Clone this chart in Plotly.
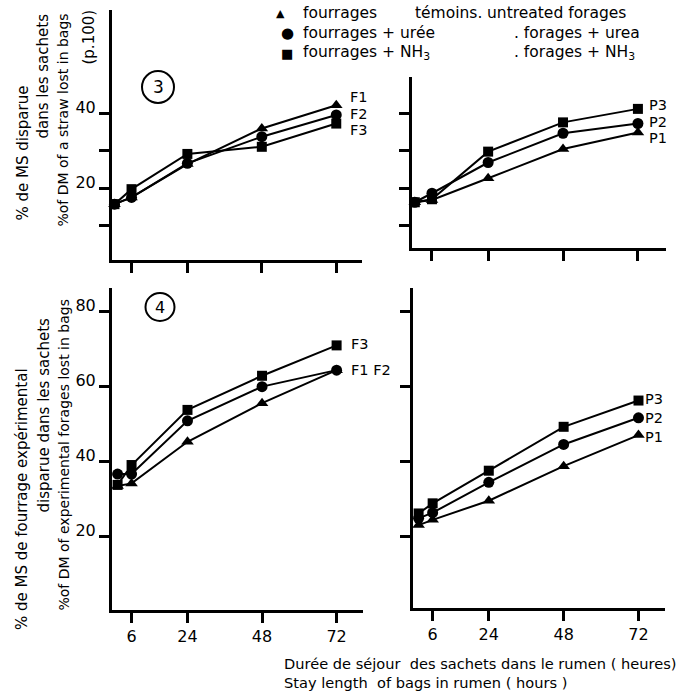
import plotly.graph_objects as go

W, H = 687, 691

# ---------------- data ----------------
hours_top = [0.5, 6, 24, 48, 72]
hours_bottom = [1.5, 6, 24, 48, 72]
hour_ticks = [6, 24, 48, 72]

# panel 3 : straw (F) and (P)
straw_F1 = [15.7, 17.5, 26.4, 35.9, 42.1]
straw_F2 = [15.7, 17.5, 26.6, 33.7, 39.5]
straw_F3 = [15.7, 19.7, 29.1, 31.0, 37.2]
straw_P1 = [16.2, 16.8, 22.6, 30.4, 34.8]
straw_P2 = [16.2, 18.6, 26.8, 34.6, 37.2]
straw_P3 = [16.2, 17.0, 29.7, 37.5, 41.1]

# panel 4 : experimental forages (F) and (P)
forage_F1 = [33.5, 34.2, 45.3, 55.6, 64.4]
forage_F2 = [36.7, 36.7, 50.9, 60.0, 64.4]
forage_F3 = [33.8, 39.1, 53.8, 62.9, 71.0]
forage_P1 = [23.1, 24.5, 29.6, 38.8, 47.1]
forage_P2 = [24.9, 26.4, 34.5, 44.6, 51.7]
forage_P3 = [26.2, 28.9, 37.6, 49.3, 56.3]

top_yticks = [20, 40]
top_yminor = [10, 30]
top_yall = [10, 20, 30, 40]
bottom_yticks = [20, 40, 60, 80]

FONT = "DejaVu Sans"


def fx(px):
    return px / W


def fy(py):
    return 1 - py / H


fig = go.Figure()

symbols = {1: "triangle-up", 2: "circle", 3: "square"}
sizes = {1: 11, 2: 11, 3: 10}


def add_series(xs, ys, k, xa, ya):
    fig.add_trace(go.Scatter(
        x=xs, y=ys, mode="lines+markers",
        line=dict(color="black", width=2),
        marker=dict(symbol=symbols[k], size=sizes[k], color="black"),
        xaxis=xa, yaxis=ya, cliponaxis=False, showlegend=False,
    ))


for k, ys in [(1, straw_F1), (2, straw_F2), (3, straw_F3)]:
    add_series(hours_top, ys, k, "x", "y")
for k, ys in [(1, straw_P1), (2, straw_P2), (3, straw_P3)]:
    add_series(hours_top, ys, k, "x2", "y2")
for k, ys in [(1, forage_F1), (2, forage_F2), (3, forage_F3)]:
    add_series(hours_bottom, ys, k, "x3", "y3")
for k, ys in [(1, forage_P1), (2, forage_P2), (3, forage_P3)]:
    add_series(hours_bottom, ys, k, "x4", "y4")

axis_common = dict(
    showline=True, linewidth=3, linecolor="black", showgrid=False,
    zeroline=False, ticks="outside", ticklen=10, tickwidth=3,
    tickcolor="black", tickfont=dict(family=FONT, size=16, color="black"),
)

minor_style = dict(ticks="outside", ticklen=10, tickwidth=3,
                   tickcolor="black", showgrid=False)


def xax(dom, rng, labels, anchor):
    d = dict(axis_common)
    d.update(domain=dom, range=rng, anchor=anchor, ticklabelstandoff=0)
    if labels:
        d.update(tickvals=hour_ticks, ticktext=[str(t) for t in hour_ticks])
    else:
        # unlabelled axis: ticks only
        d.update(tickvals=[], showticklabels=False,
                 minor=dict(tickvals=hour_ticks, **minor_style))
    return d


def yax(dom, rng, tv, labels, anchor, minor=None):
    d = dict(axis_common)
    d.update(domain=dom, range=rng, anchor=anchor, ticklabelshift=-6,
             ticklabelstandoff=0)
    if labels:
        d.update(tickvals=tv, ticktext=[str(t) for t in tv])
        if minor:
            d["minor"] = dict(tickvals=minor, **minor_style)
    else:
        d.update(tickvals=[], showticklabels=False,
                 minor=dict(tickvals=tv, **minor_style))
    return d


fig.update_layout(
    width=W, height=H, margin=dict(l=0, r=0, t=0, b=0),
    paper_bgcolor="white", plot_bgcolor="white", showlegend=False,
    font=dict(family=FONT, color="black"),
    xaxis=xax([fx(112), fx(362)], [-0.3, 80.3], False, "y"),
    yaxis=yax([fy(260), fy(10)], [0.8, 67.5], top_yticks, True, "x", top_yminor),
    xaxis2=xax([fx(412), fx(666)], [-0.4, 81.0], False, "y2"),
    yaxis2=yax([fy(248), fy(77)], [4.0, 49.6], top_yall, False, "x2"),
    xaxis3=xax([fx(112), fx(363)], [-0.3, 80.5], True, "y3"),
    yaxis3=yax([fy(610), fy(288)], [0.45, 86.3], bottom_yticks, True, "x3"),
    xaxis4=xax([fx(413), fx(665)], [-0.3, 80.5], True, "y4"),
    yaxis4=yax([fy(608), fy(288)], [1.0, 86.3], bottom_yticks, False, "x4"),
)

annots = []


def txt(px, py, s, size=16, xanchor="left", yanchor="middle", angle=0):
    annots.append(dict(
        x=fx(px), y=fy(py), xref="paper", yref="paper", text=s,
        showarrow=False, xanchor=xanchor, yanchor=yanchor, textangle=angle,
        font=dict(family=FONT, size=size, color="black"),
    ))


# legend
LG = 15.5
txt(280, 13, "▲", size=11, xanchor="center")
txt(301, 13, "fourrages", LG)
txt(413, 13, "témoins.", LG)
txt(485, 13, "untreated forages", LG)
txt(287, 33, "●", size=15, xanchor="center")
txt(301, 33, "fourrages + urée", LG)
txt(512, 33, ". forages + urea", LG)
txt(287, 53, "■", size=13, xanchor="center")
txt(301, 53, "fourrages + NH<sub>3</sub>", LG)
txt(512, 53, ". forages + NH<sub>3</sub>", LG)

# series labels
LS = 14.5
txt(348, 97, "F1", LS)
txt(348, 113.5, "F2", LS)
txt(348, 130, "F3", LS)
txt(647, 105, "P3", LS)
txt(647, 121.5, "P2", LS)
txt(647, 138, "P1", LS)
txt(349, 344, "F3", LS)
txt(349, 370, "F1 F2", LS)
txt(643, 399, "P3", LS)
txt(643, 418, "P2", LS)
txt(643, 437, "P1", LS)

# circled panel numbers
txt(158, 87, "3", size=17, xanchor="center")
txt(160, 307, "4", size=16, xanchor="center")

# y axis titles
TS = 15
txt(22, 223, "% de MS disparue", TS, xanchor="center", yanchor="bottom", angle=-90)
txt(43, 12, "dans les sachets", TS, xanchor="center", yanchor="top", angle=-90)
txt(63, 12, "%of DM of a straw lost in bags", 14, xanchor="center", yanchor="top", angle=-90)
txt(88, 8, "(p.100)", 15, xanchor="center", yanchor="top", angle=-90)
txt(22, 632, "% de MS de fourrage expérimental", TS, xanchor="center", yanchor="bottom", angle=-90)
txt(43, 316, "disparue dans les sachets", TS, xanchor="center", yanchor="top", angle=-90)
txt(63, 298, "%of DM of experimental forages lost in bags", 14, xanchor="center", yanchor="top", angle=-90)

# x axis title
txt(282, 663, "Durée de séjour  des sachets dans le rumen ( heures)", size=14.6)
txt(282, 682, "Stay length  of bags in rumen ( hours )", size=14.6)

fig.update_layout(annotations=annots)

shapes = [
    dict(type="circle", xref="paper", yref="paper",
         x0=fx(142), x1=fx(174), y0=fy(103), y1=fy(71),
         line=dict(color="black", width=2)),
    dict(type="circle", xref="paper", yref="paper",
         x0=fx(145.5), x1=fx(174.5), y0=fy(321), y1=fy(293),
         line=dict(color="black", width=2)),
]
fig.update_layout(shapes=shapes)

fig.write_html("out.html", config={"displayModeBar": False},
               post_script="document.body.style.margin='0';")
